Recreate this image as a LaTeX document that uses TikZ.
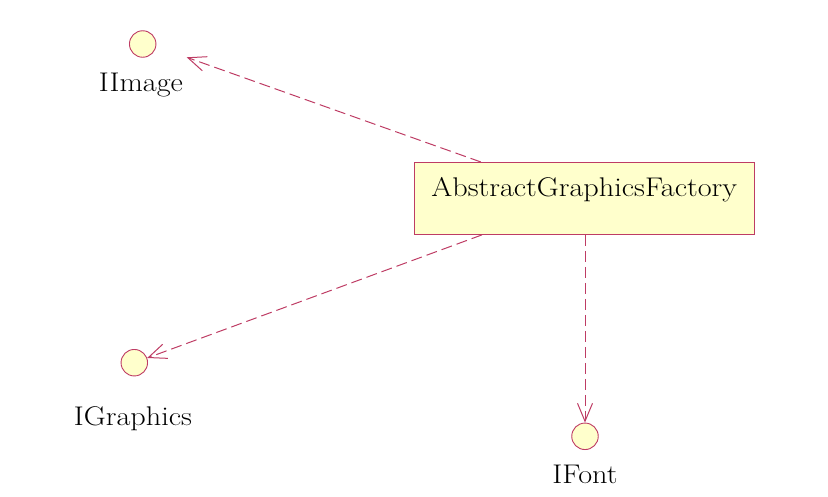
\documentclass[tikz,border=0pt]{standalone}
\usetikzlibrary{arrows.meta}
\definecolor{umlline}{RGB}{190,60,100}
\definecolor{umlfill}{RGB}{255,255,204}
\newcommand{\lbl}[1]{\fontsize{27}{32}\selectfont\scalebox{1.12}[1]{#1}}
\tikzset{
  iface/.style={circle, draw=umlline, fill=umlfill, line width=0.9pt, minimum size=26.5pt, inner sep=0pt},
  ilabel/.style={anchor=base, inner sep=0pt, font=\fontsize{27}{32}\selectfont},
  classbox/.style={draw=umlline, fill=umlfill, line width=0.9pt, anchor=north, minimum width=339.7pt, inner xsep=0pt, inner ysep=0pt, text height=33.7pt, text depth=38.3pt},
  dep/.style={draw=umlline, line width=1pt, dash pattern=on 11pt off 5pt, -{Straight Barb[length=18pt,width=15pt,line width=1pt]}}
}
\begin{document}
\begin{tikzpicture}[x=1pt,y=-1pt]
\useasboundingbox (0,0) rectangle (828,496);
\node[classbox] (box) at (584.2,162) {\lbl{AbstractGraphicsFactory}};
\node[iface] (img) at (142.7,44) {};
\node[ilabel] (imgl) at (141,91.7) {\lbl{IImage}};
\node[iface] (gra) at (134.3,362.7) {};
\node[ilabel] (gral) at (133,425.7) {\lbl{IGraphics}};
\node[iface] (fnt) at (585,436.3) {};
\node[ilabel] (fntl) at (585,483.3) {\lbl{IFont}};
\coordinate (imgtip) at (186.7,57.3);
\draw[dep] ([xshift=67pt]box.north west) -- (imgtip);
\draw[dep] ([xshift=68pt]box.south west) -- (gra);
\draw[dep] ([xshift=0.8pt]box.south) -- (fnt);
\end{tikzpicture}
\end{document}
